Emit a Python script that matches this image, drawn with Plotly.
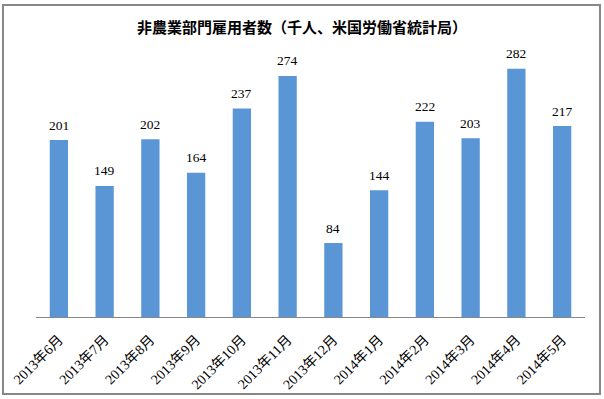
import plotly.graph_objects as go

months = ["2013年6月", "2013年7月", "2013年8月", "2013年9月", "2013年10月", "2013年11月",
          "2013年12月", "2014年1月", "2014年2月", "2014年3月", "2014年4月", "2014年5月"]
values = [201, 149, 202, 164, 237, 274, 84, 144, 222, 203, 282, 217]
title_text = "非農業部門雇用者数（千人、米国労働省統計局）"

serif = "Liberation Serif, Noto Sans CJK JP, serif"

fig = go.Figure(go.Bar(
    x=months, y=values,
    marker=dict(color="#5a96d6", line=dict(width=0)),
    hoverinfo="skip",
))

for m, v in zip(months, values):
    fig.add_annotation(x=m, y=v, text=str(v), showarrow=False, yanchor="middle", yshift=15,
                       font=dict(family=serif, size=13.5, color="#000000"))

fig.update_layout(
    width=604, height=399,
    margin=dict(l=36, r=19, t=53, b=82, autoexpand=False),
    paper_bgcolor="white", plot_bgcolor="white",
    bargap=0.6,
    showlegend=False,
    title=dict(text="<b>" + title_text + "</b>", x=0.5, xanchor="center", y=0.931, yanchor="middle",
               font=dict(family="Noto Sans CJK JP", size=15, color="#000000")),
    xaxis=dict(tickangle=-45, tickfont=dict(family=serif, size=14, color="#000000"),
               ticklabelstandoff=8, automargin=False,
               showline=True, linecolor="#868686", linewidth=1, ticks="", showgrid=False),
    yaxis=dict(range=[0, 300], visible=False, showgrid=False, automargin=False),
    shapes=[dict(type="rect", xref="paper", yref="paper",
                 x0=-0.0601, x1=1.0273, y0=-0.2917, y1=1.1818,
                 line=dict(color="#878787", width=2))],
)

fig.write_html("out.html", config={"displayModeBar": False},
               post_script="document.body.style.margin='0';document.body.style.overflow='hidden';")
